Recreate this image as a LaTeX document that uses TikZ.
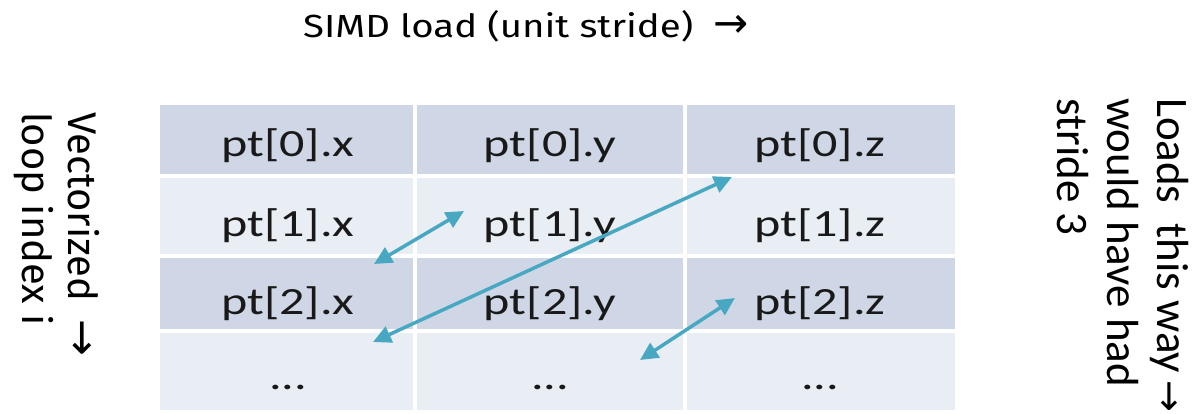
\documentclass[tikz,border=0pt]{standalone}
\usepackage{fontspec}
\usetikzlibrary{arrows.meta}

% fonts: widened Carlito for the table, widened Fira Sans for the heading
\newfontfamily\cellfont[FakeStretch=1.3]{Carlito}
\newfontfamily\titlefont[FakeStretch=1.2]{Fira Sans}
\newfontfamily\sidefont{Fira Sans}
\newfontfamily\notefont{Carlito}
\newfontfamily\arrowfont{DejaVu Sans}

\definecolor{rowdark}{RGB}{207,215,230}
\definecolor{rowlight}{RGB}{233,237,244}
\definecolor{linkteal}{RGB}{72,168,194}

\tikzset{
  cellbox/.style={draw=white, line width=4pt, inner sep=0pt, minimum width=#1},
  darkrow/.style={fill=rowdark},
  lightrow/.style={fill=rowlight},
  celltext/.style={anchor=base, inner sep=0pt, font=\cellfont\fontsize{38.5}{40}\selectfont, text=black!90},
  link/.style={draw=linkteal, line width=3.5pt,
    {Triangle[length=18pt,width=17pt]}-{Triangle[length=18pt,width=17pt]}},
}
\newcommand{\bigarrow}[1]{{\arrowfont\fontsize{#1}{#1}\selectfont →}}

\begin{document}
\begin{tikzpicture}[x=1pt, y=-1pt]
  \useasboundingbox (0,0) rectangle (1196,413);
  \fill[white] (0,0) rectangle (1196,413);

  % heading
  \node[anchor=base west, inner sep=0pt, font=\titlefont\fontsize{32}{36}\selectfont] (title)
    at (303,37) {SIMD load (unit stride)\hspace{20pt}\bigarrow{42}};

  % table cells: columns 158-415-685-957, rows 103-175.5-255.5-330.5-412
  \foreach \cx/\w/\c in {286.5/257/0, 550/270/1, 821/272/2}{
    \node[cellbox=\w, darkrow,  minimum height=72.5pt] (c0\c) at (\cx,139.25) {};
    \node[cellbox=\w, lightrow, minimum height=80pt]   (c1\c) at (\cx,215.5) {};
    \node[cellbox=\w, darkrow,  minimum height=75pt]   (c2\c) at (\cx,293) {};
    \node[cellbox=\w, lightrow, minimum height=81.5pt] (c3\c) at (\cx,371.25) {};
  }
  \foreach \r/\y in {0/156, 1/236, 2/314}{
    \node[celltext] (t\r0) at (288,\y) {pt[\r].x};
    \node[celltext] (t\r1) at (550,\y) {pt[\r].y};
    \node[celltext] (t\r2) at (820,\y) {pt[\r].z};
  }
  \node[celltext] (t30) at (288,389) {...};
  \node[celltext] (t31) at (550,389) {...};
  \node[celltext] (t32) at (820,389) {...};

  % element-to-element strides
  \coordinate (a1s) at (374,264);
  \coordinate (a1e) at (464,211);
  \coordinate (a2s) at (373,342);
  \coordinate (a2e) at (732,177);
  \coordinate (a3s) at (640,360);
  \coordinate (a3e) at (735,298);
  \draw[link] (a1s) -- (a1e);
  \draw[link] (a2s) -- (a2e);
  \draw[link] (a3s) -- (a3e);

  % side notes (base anchor sits on the last line)
  \node[rotate=-90, anchor=base west, align=left, inner sep=0pt,
        font=\sidefont\fontsize{40}{46}\selectfont] (vecnote) at (22,112)
    {Vectorized\hspace{18pt}\bigarrow{44}\\loop index\hspace{10pt}i};
  \node[rotate=-90, anchor=base west, align=left, inner sep=0pt,
        font=\notefont\fontsize{45}{50}\selectfont] (stridenote) at (1057,98)
    {Loads\hspace{20pt}this way\hspace{7pt}\bigarrow{38}\\would have had\\stride 3};
\end{tikzpicture}
\end{document}
